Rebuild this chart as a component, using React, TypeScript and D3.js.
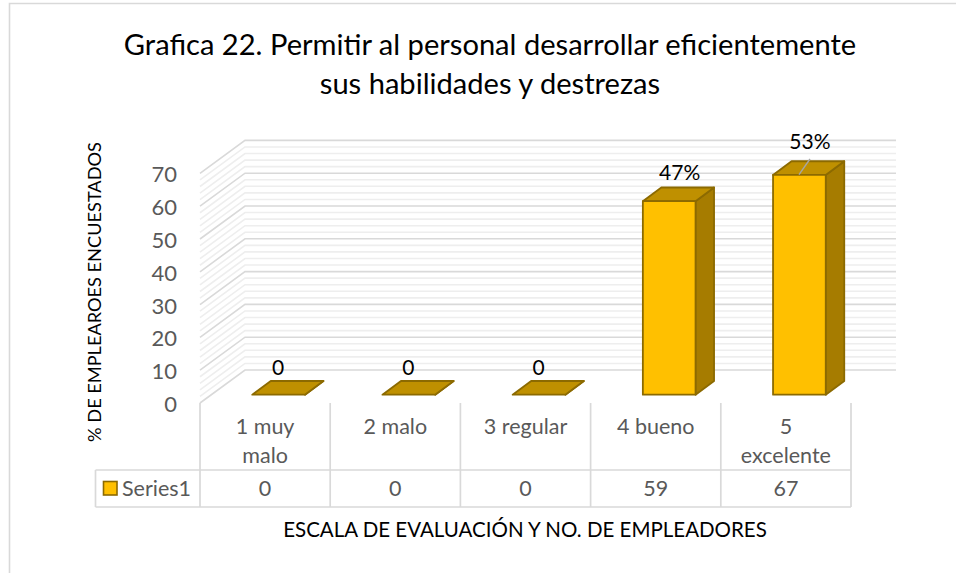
import React from 'react';
import { scaleLinear, scaleBand, range } from 'd3';

const categories = ['1 muy malo', '2 malo', '3 regular', '4 bueno', '5 excelente'];
const categoryLines = [['1 muy', 'malo'], ['2 malo'], ['3 regular'], ['4 bueno'], ['5', 'excelente']];
const seriesName = 'Series1';
const values = [0, 0, 0, 59, 67];
const dataLabels = ['0', '0', '0', '47%', '53%'];
const titleLines = ['Grafica 22. Permitir al personal desarrollar eficientemente', 'sus habilidades y destrezas'];
const yTitle = '% DE EMPLEAROES ENCUESTADOS';
const xTitle = 'ESCALA DE EVALUACIÓN Y NO. DE EMPLEADORES';

const FONT = 'Lato, "Open Sans", sans-serif';
const GRID = '#d9d9d9';
const MINOR = '#eeeeee';
const TEXT = '#595959';
const GOLD = '#ffc000';
const TOP = '#bf9000';
const SIDE = '#a67c00';
const EDGE = '#8c6a00';

// front plane of the 3d box, the walls sit behind it by depth
const left = 200;
const right = 851;
const base = 403;
const depth = { x: 45, y: -33 };
// where a bar stands inside the floor
const barFront = { x: 13.5, y: -8.3 };
const barDepth = { x: 18.5, y: -13.7 };
const barW = 52.7;

const x = scaleBand<string>().domain(categories).range([left, right]);
const y = scaleLinear().domain([0, 70]).range([base, base - 229.6]);

const pts = (p: number[][]) => p.map(d => d.join(',')).join(' ');

export default function App() {
  const majors = y.ticks(7);
  const minors = range(0, 71, 2).filter(d => d % 10 !== 0);
  const cols = [...categories.map(c => x(c) as number), right];
  const wall = (d: number) => `M${left},${y(d)}L${left + depth.x},${y(d) + depth.y}H${right + depth.x}`;

  return (
    <svg width={956} height={573} style={{ position: 'absolute', left: 0, top: 0, background: '#fff' }} fontFamily={FONT}>
      {/* chart area border, only top and left are in the picture */}
      <path d="M9.5,573V3.5H956" fill="none" stroke={GRID} strokeWidth={1.6} />

      {titleLines.map((t, i) => (
        <text key={t} x={490} y={55 + i * 39} textAnchor="middle" fontSize={29.1} fill="#000">{t}</text>
      ))}

      {minors.map(d => <path key={d} d={wall(d)} fill="none" stroke={MINOR} strokeWidth={1.6} />)}
      {majors.map(d => <path key={d} d={wall(d)} fill="none" stroke={GRID} strokeWidth={1.6} />)}

      {majors.map(d => (
        <text key={d} x={177} y={y(d) + 9} textAnchor="end" fontSize={22} fill={TEXT}>{d}</text>
      ))}

      {categories.map((c, i) => {
        const bx = (x(c) as number) + (x.bandwidth() - barW) / 2 + barFront.x;
        const y0 = base + barFront.y;
        const y1 = y0 - (y(0) - y(values[i]));
        return (
          <g key={c} stroke={EDGE} strokeWidth={1.8} strokeLinejoin="round">
            <polygon fill={SIDE} points={pts([[bx + barW, y1], [bx + barW + barDepth.x, y1 + barDepth.y], [bx + barW + barDepth.x, y0 + barDepth.y], [bx + barW, y0]])} />
            <polygon fill={TOP} points={pts([[bx, y1], [bx + barDepth.x, y1 + barDepth.y], [bx + barW + barDepth.x, y1 + barDepth.y], [bx + barW, y1]])} />
            {values[i] > 0 && <rect x={bx} y={y1} width={barW} height={y0 - y1} fill={GOLD} />}
          </g>
        );
      })}

      {/* leader line of the last label */}
      <line x1={799} y1={174.7} x2={810} y2={159} stroke="#a6a6a6" strokeWidth={1.4} />

      {categories.map((c, i) => {
        const cx = (x(c) as number) + x.bandwidth() / 2 + (values[i] > 0 ? 24 : 13);
        const top = base + barFront.y - (y(0) - y(values[i])) + barDepth.y;
        const lift = i === 4 ? 12 : values[i] > 0 ? 7 : 6;
        return (
          <text key={c} x={cx} y={top - lift} textAnchor="middle" fontSize={21} fill="#000">
            {dataLabels[i]}
          </text>
        );
      })}

      {/* data table */}
      <g stroke={GRID} strokeWidth={1.7} fill="none">
        <path d={`M95.5,470H${right}M95.5,507H${right}M95.5,470V507`} />
        {cols.map(c => <line key={c} x1={c} x2={c} y1={base} y2={507} />)}
      </g>
      {categories.map((c, i) => {
        const cx = (x(c) as number) + x.bandwidth() / 2;
        return (
          <g key={c} textAnchor="middle" fontSize={21.5} fill={TEXT}>
            {categoryLines[i].map((l, j) => (
              <text key={l} x={cx} y={434 + j * 29}>{l}</text>
            ))}
            <text x={cx} y={496}>{values[i]}</text>
          </g>
        );
      })}
      <rect x={103.5} y={481.5} width={13.5} height={13.5} fill={GOLD} stroke={EDGE} strokeWidth={1.6} />
      <text x={122} y={496} fontSize={21.5} fill={TEXT}>{seriesName}</text>

      <text x={525} y={537} textAnchor="middle" fontSize={20.5} fill="#000">{xTitle}</text>
      <text transform="translate(101,292) rotate(-90)" textAnchor="middle" fontSize={18.2} fill="#000">{yTitle}</text>
    </svg>
  );
}
